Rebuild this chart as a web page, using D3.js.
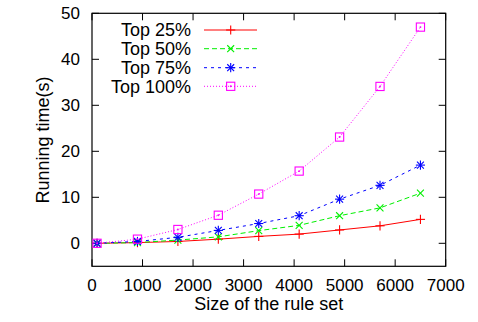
<!DOCTYPE html>
<html>
<head>
<meta charset="utf-8">
<script src="https://cdn.jsdelivr.net/npm/d3@7"></script>
<style>
  body { margin: 0; background: #fff; }
  text { font-family: "Liberation Sans", Arial, sans-serif; font-size: 17px; fill: #000; }
  .big { font-size: 18px; }
</style>
</head>
<body>
<svg id="chart" width="478" height="322"></svg>
<script>
var sizes = [100, 900, 1700, 2500, 3300, 4100, 4900, 5700, 6500];
var top25 = [0, 0.15, 0.4, 0.9, 1.5, 2.0, 2.9, 3.8, 5.2];
var top50 = [0, 0.15, 0.7, 1.4, 2.75, 3.9, 6.0, 7.7, 10.9];
var top75 = [0, 0.4, 1.3, 2.8, 4.3, 6.0, 9.6, 12.6, 17.0];
var top100 = [0, 0.9, 3.0, 6.1, 10.7, 15.7, 23.1, 34.1, 47.0];
var xTicks = [0, 1000, 2000, 3000, 4000, 5000, 6000, 7000];
var yTicks = [0, 10, 20, 30, 40, 50];

var series = [
  { name: "Top 25%", values: top25, color: "#ff0000", dash: null, marker: "plus" },
  { name: "Top 50%", values: top50, color: "#00f000", dash: "5,3", marker: "cross" },
  { name: "Top 75%", values: top75, color: "#0000ff", dash: "3,4", marker: "star" },
  { name: "Top 100%", values: top100, color: "#ff00ff", dash: "1,2", marker: "square" }
];

var svg = d3.select("#chart");
var pLeft = 92, pRight = 445.7, pTop = 13.3, pBottom = 266.3;

var x = d3.scaleLinear().domain([0, 7000]).range([pLeft, pRight]);
var y = d3.scaleLinear().domain([-5, 50]).range([pBottom, pTop]);

var g = svg.append("g");

// frame
g.append("rect")
  .attr("x", pLeft).attr("y", pTop)
  .attr("width", pRight - pLeft).attr("height", pBottom - pTop)
  .attr("fill", "none").attr("stroke", "#000").attr("stroke-width", 1.2);

// ticks, mirrored on all sides
var tl = 7;
xTicks.forEach(function(t) {
  g.append("line").attr("x1", x(t)).attr("x2", x(t)).attr("y1", pBottom).attr("y2", pBottom - tl).attr("stroke", "#000");
  g.append("line").attr("x1", x(t)).attr("x2", x(t)).attr("y1", pTop).attr("y2", pTop + tl).attr("stroke", "#000");
  g.append("text").attr("x", x(t)).attr("y", 291).attr("text-anchor", "middle").text(t);
});
yTicks.forEach(function(t) {
  g.append("line").attr("x1", pLeft).attr("x2", pLeft + tl).attr("y1", y(t)).attr("y2", y(t)).attr("stroke", "#000");
  g.append("line").attr("x1", pRight).attr("x2", pRight - tl).attr("y1", y(t)).attr("y2", y(t)).attr("stroke", "#000");
  g.append("text").attr("x", 80).attr("y", y(t)).attr("dy", "0.35em").attr("text-anchor", "end").text(t);
});

svg.append("text").attr("class", "big").attr("x", 268.7).attr("y", 309.5).attr("text-anchor", "middle").text("Size of the rule set");
svg.append("text").attr("class", "big").attr("transform", "translate(49,140) rotate(-90)").attr("text-anchor", "middle").text("Running time(s)");

function drawMarker(sel, type, color, cx, cy) {
  var r = 4.6;
  var m = sel.append("g").attr("transform", "translate(" + cx + "," + cy + ")")
    .attr("stroke", color).attr("stroke-width", 1.1).attr("fill", "none");
  if (type === "plus" || type === "star") {
    m.append("line").attr("x1", -r).attr("x2", r).attr("y1", 0).attr("y2", 0);
    m.append("line").attr("x1", 0).attr("x2", 0).attr("y1", -r).attr("y2", r);
  }
  if (type === "cross" || type === "star") {
    var d = r * 0.75;
    m.append("line").attr("x1", -d).attr("x2", d).attr("y1", -d).attr("y2", d);
    m.append("line").attr("x1", -d).attr("x2", d).attr("y1", d).attr("y2", -d);
  }
  if (type === "square") {
    m.append("rect").attr("x", -r + 0.5).attr("y", -r + 0.5).attr("width", 2 * r - 1).attr("height", 2 * r - 1);
    m.append("circle").attr("r", 0.4).attr("fill", color);
  }
}

var line = d3.line()
  .x(function(d, i) { return x(sizes[i]); })
  .y(function(d) { return y(d); });

series.forEach(function(s) {
  g.append("path")
    .attr("d", line(s.values))
    .attr("fill", "none")
    .attr("stroke", s.color)
    .attr("stroke-width", 1)
    .attr("stroke-dasharray", s.dash);
  s.values.forEach(function(v, i) {
    drawMarker(g, s.marker, s.color, x(sizes[i]), y(v));
  });
});

// legend
var legY = [30, 48.7, 67.7, 86.3];
series.forEach(function(s, i) {
  var ly = legY[i];
  svg.append("text").attr("class", "big").attr("x", 191).attr("y", ly).attr("dy", "0.35em").attr("text-anchor", "end").text(s.name);
  svg.append("line").attr("x1", 204).attr("x2", 257).attr("y1", ly).attr("y2", ly)
    .attr("stroke", s.color).attr("stroke-width", 1).attr("stroke-dasharray", s.dash);
  drawMarker(svg, s.marker, s.color, 230.7, ly);
});
</script>
</body>
</html>
